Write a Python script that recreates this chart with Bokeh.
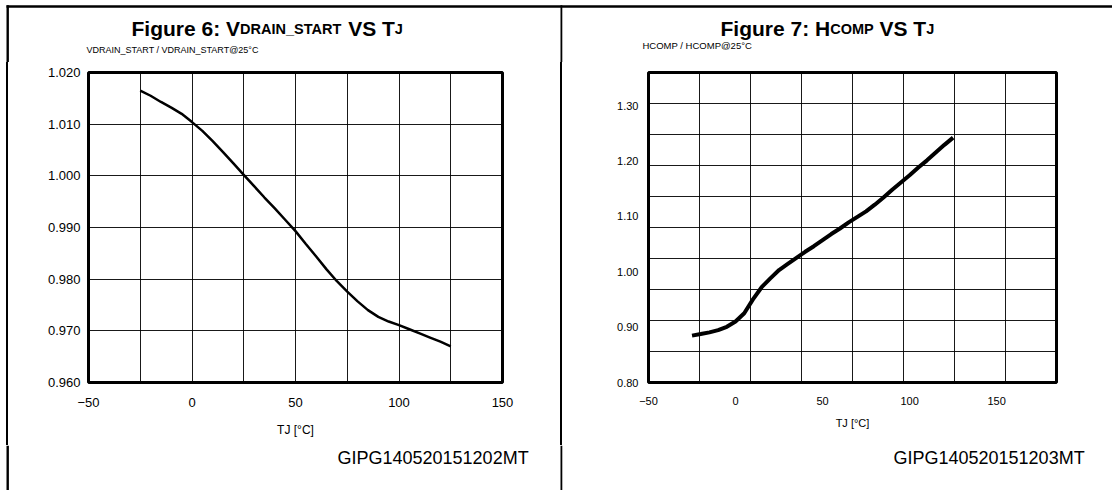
from bokeh.plotting import figure
from bokeh.models import Range1d, FixedTicker, NumeralTickFormatter, Div, Spacer
from bokeh.core.properties import value
from bokeh.layouts import row, column
from bokeh.embed import file_html
from bokeh.resources import INLINE

# ---------------- data ----------------
temp_fig6 = [-25, -20, -15, -10, -5, 0, 5, 10, 15, 20, 25, 30, 35, 40, 45, 50, 55, 60,
             65, 70, 75, 80, 85, 90, 95, 100, 105, 110, 115, 120, 125]
vdrain_ratio = [1.0165, 1.0155, 1.0143, 1.0132, 1.0120, 1.0104, 1.0087, 1.0067, 1.0046,
                1.0024, 1.0002, 0.9980, 0.9958, 0.9937, 0.9915, 0.9893, 0.9868, 0.9844,
                0.9819, 0.9796, 0.9776, 0.9757, 0.9740, 0.9727, 0.9718, 0.9711, 0.9703,
                0.9695, 0.9687, 0.9679, 0.9670]

temp_fig7 = [-25, -20, -15, -10, -5, 0, 5, 10, 15, 20, 25, 30, 35, 40, 45, 50, 55, 60,
             65, 70, 75, 80, 85, 90, 95, 100, 105, 110, 115, 120, 125]
hcomp_ratio = [0.8846, 0.8875, 0.8905, 0.8945, 0.9005, 0.9100, 0.9250, 0.9500, 0.9720,
               0.9880, 1.0030, 1.0140, 1.0250, 1.0360, 1.0460, 1.0570, 1.0680, 1.0780,
               1.0890, 1.0990, 1.1090, 1.1210, 1.1340, 1.1480, 1.1610, 1.1740, 1.1880,
               1.2010, 1.2150, 1.2290, 1.2420]

x_tick_labels = [-50, 0, 50, 100, 150]
fig6_y_ticks = [0.960, 0.970, 0.980, 0.990, 1.000, 1.010, 1.020]
fig7_y_ticks = [0.80, 0.90, 1.00, 1.10, 1.20, 1.30]

title6 = [("Figure 6: V", 21), ("DRAIN_START", 14.5), (" VS T", 21), ("J", 14.5)]
title7 = [("Figure 7: H", 21), ("COMP", 14.5), (" VS T", 21), ("J", 14.5)]
caption6 = "VDRAIN_START / VDRAIN_START@25°C"
caption7 = "HCOMP / HCOMP@25°C"
xlabel = "TJ [°C]"
code6 = "GIPG140520151202MT"
code7 = "GIPG140520151203MT"

FONT = "Liberation Sans"

BOLD_W = {"F": .611, "i": .278, "g": .611, "u": .611, "r": .389, "e": .556, " ": .278,
          "6": .556, "7": .556, ":": .333, "V": .667, "D": .722, "R": .722, "A": .722,
          "I": .278, "N": .722, "_": .556, "S": .667, "T": .611, "J": .556, "H": .722,
          "C": .722, "O": .778, "M": .833, "P": .667}

W, H = 1112, 490
TOP_H, FOOT_H = 62, 45
MID_H = H - TOP_H - FOOT_H
P1_X0, P1_X1 = 40, 530
P2_X0 = 590
P1_W = P1_X1 - P1_X0
P2_W = W - P2_X0


def strip(width, height, x0, y0):
    """Decoration strip whose frame covers its whole canvas (page pixel coords)."""
    s = figure(width=width, height=height, x_range=Range1d(x0, x0 + width),
               y_range=Range1d(y0 + height, y0), x_axis_type=None, y_axis_type=None,
               output_backend="svg", toolbar_location=None, title=None,
               min_border=0, min_border_left=0, min_border_right=0,
               min_border_top=0, min_border_bottom=0)
    s.outline_line_color = None
    s.background_fill_color = "white"
    s.border_fill_color = "white"
    return s


def bar(s, l, r, t, b):
    s.quad(left=[l], right=[r], top=[t], bottom=[b], fill_color="black", line_color=None)


def txt(s, x, y, text, size, bold=False, align="left", baseline="middle"):
    s.text(x=[x], y=[y], text=[text], text_font=value(FONT), text_font_size=value(f"{size}px"),
           text_font_style="bold" if bold else "normal", text_align=align,
           text_baseline=baseline, text_color="black")


def title(s, x0, y, parts):
    x = x0
    for t, size in parts:
        lead = len(t) - len(t.lstrip(" "))
        x += lead * BOLD_W[" "] * size
        t = t.lstrip(" ")
        txt(s, x, y, t, size, bold=True, baseline="alphabetic")
        x += sum(BOLD_W.get(c, 0.6) for c in t) * size


def rule(width, height):
    """Solid black vertical rule used for the page border / divider."""
    return Div(text="", width=width, height=height,
               styles={"background-color": "black", "margin": "0", "padding": "0"})


def style_axes(p, tick_size, label_size, xstand, ystand, lab_stand):
    for ax in (p.xaxis[0], p.yaxis[0]):
        ax.axis_line_color = None
        ax.major_tick_line_color = None
        ax.minor_tick_line_color = None
        ax.major_tick_out = 0
        ax.major_tick_in = 0
        ax.major_label_text_font = FONT
        ax.major_label_text_font_size = f"{tick_size}px"
        ax.major_label_text_color = "black"
    p.xaxis.major_label_standoff = xstand
    p.yaxis.major_label_standoff = ystand
    p.xaxis.axis_label = xlabel
    p.xaxis.axis_label_text_font = FONT
    p.xaxis.axis_label_text_font_size = f"{label_size}px"
    p.xaxis.axis_label_text_font_style = "normal"
    p.xaxis.axis_label_text_color = "black"
    p.xaxis.axis_label_standoff = lab_stand
    p.outline_line_color = "black"
    p.outline_line_width = 3
    p.outline_line_alpha = 1.0
    p.grid.grid_line_color = "black"
    p.grid.grid_line_width = 1
    p.grid.grid_line_alpha = 0.9
    p.background_fill_color = "white"
    p.border_fill_color = "white"


# ---------------- top strip: border, titles, captions ----------------
top = strip(W, TOP_H, 0, 0)
bar(top, 6, W, 4.8, 7.3)
bar(top, 6, 8.4, 4.8, TOP_H)
bar(top, 560, 561.8, 4.8, TOP_H)
title(top, 131, 28, title6)
title(top, 720, 28, title7)
txt(top, 86, 49, caption6, 9)
txt(top, 642, 45, caption7, 9.5)

# ---------------- Figure 6 ----------------
p1 = figure(width=P1_W, height=MID_H, x_range=Range1d(-50, 150), y_range=Range1d(0.960, 1.020),
            output_backend="svg", toolbar_location=None, title=None,
            min_border_left=88 - P1_X0, min_border_right=P1_X1 - 502,
            min_border_top=72 - TOP_H, min_border_bottom=TOP_H + MID_H - 383)
p1.xaxis.ticker = FixedTicker(ticks=x_tick_labels)
p1.yaxis.ticker = FixedTicker(ticks=fig6_y_ticks)
p1.yaxis.formatter = NumeralTickFormatter(format="0.000")
p1.xgrid.ticker = FixedTicker(ticks=[-25, 0, 25, 50, 75, 100, 125])
p1.ygrid.ticker = FixedTicker(ticks=fig6_y_ticks[1:-1])
style_axes(p1, 13, 12, 15, 8, 13)
p1.line(temp_fig6, vdrain_ratio, line_color="black", line_width=2.5)

# ---------------- Figure 7 ----------------
x7 = Range1d(-50, 184.4)
y7 = Range1d(0.80, 1.3596)
p2 = figure(width=P2_W, height=MID_H, x_range=x7, y_range=y7,
            output_backend="svg", toolbar_location=None, title=None,
            min_border_left=648 - P2_X0, min_border_right=W - 1056,
            min_border_top=71 - TOP_H, min_border_bottom=TOP_H + MID_H - 382)
p2.xaxis.ticker = FixedTicker(ticks=x_tick_labels)
p2.xaxis.bounds = (-50, 150)
p2.yaxis.ticker = FixedTicker(ticks=fig7_y_ticks)
p2.yaxis.formatter = NumeralTickFormatter(format="0.00")
xs = (x7.end - x7.start) / 8
ys = (y7.end - y7.start) / 10
p2.xgrid.ticker = FixedTicker(ticks=[x7.start + k * xs for k in range(1, 8)])
p2.ygrid.ticker = FixedTicker(ticks=[y7.start + k * ys for k in range(1, 10)])
style_axes(p2, 11, 11, 14, 10, 9)
p2.line(temp_fig7, hcomp_ratio, line_color="black", line_width=4)

# ---------------- footer strip ----------------
foot = strip(W, FOOT_H, 0, TOP_H + MID_H)
bar(foot, 6, 8.4, TOP_H + MID_H, H)
bar(foot, 560, 561.8, TOP_H + MID_H, H)
txt(foot, 337, 457, code6, 18)
txt(foot, 893, 457, code7, 18)

middle = row(Spacer(width=6, height=MID_H), rule(2, MID_H), Spacer(width=P1_X0 - 8, height=MID_H),
             p1,
             Spacer(width=560 - P1_X1, height=MID_H), rule(2, MID_H),
             Spacer(width=P2_X0 - 562, height=MID_H),
             p2, spacing=0)
layout = column(top, middle, foot, spacing=0)
open("out.html", "w").write(file_html(layout, INLINE))
